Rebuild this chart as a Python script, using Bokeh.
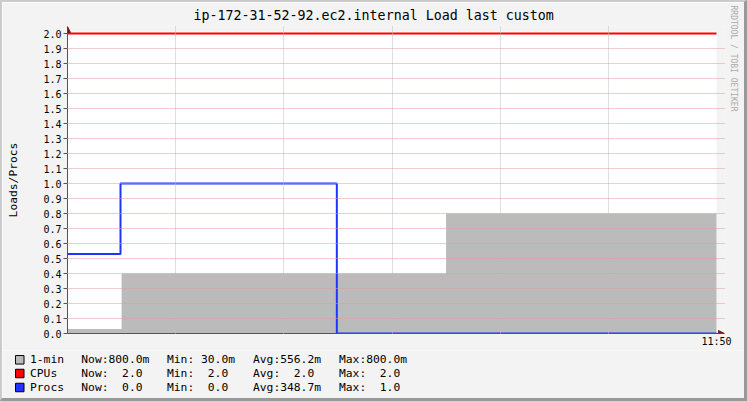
from bokeh.plotting import figure
from bokeh.layouts import column
from bokeh.models import (FixedTicker, PrintfTickFormatter, BoxAnnotation,
                          Arrow, NormalHead, Range1d, Title)
from bokeh.core.properties import value
from bokeh.embed import file_html
from bokeh.resources import INLINE

# ---------------- data ----------------
title_text = "ip-172-31-52-92.ec2.internal Load last custom"
y_axis_title = "Loads/Procs"
watermark = "RRDTOOL / TOBI OETIKER"

# time in minutes after 11:44 (right edge of the white area = 11:50)
load_t = [0.0, 0.5, 3.5, 6.0]
load_v = [0.03, 0.40, 0.80, 0.80]
procs_t = [0.0, 0.49, 2.49, 6.0]
procs_v = [0.53, 1.00, 0.00, 0.00]
cpus_t = [0.0, 6.0]
cpus_v = [2.0, 2.0]

y_ticks = [0.0, 0.1, 0.2, 0.3, 0.4, 0.5, 0.6, 0.7, 0.8, 0.9, 1.0,
           1.1, 1.2, 1.3, 1.4, 1.5, 1.6, 1.7, 1.8, 1.9, 2.0]
x_grid = [1, 2, 3, 4, 5]
x_ticks = [6]
x_tick_labels = ["11:50"]

series = ["1-min", "CPUs", "Procs"]
series_colors = ["#bbbbbb", "#ff0000", "#2233ff"]
now_txt = ["Now:800.0m", "Now:  2.0", "Now:  0.0"]
min_txt = ["Min: 30.0m", "Min:  2.0", "Min:  0.0"]
avg_txt = ["Avg:556.2m", "Avg:  2.0", "Avg:348.7m"]
max_txt = ["Max:800.0m", "Max:  2.0", "Max:  1.0"]

MONO = "DejaVu Sans Mono"
BG = "#f3f3f3"

# ---------------- geometry (local to the area inside the CSS page border) ----
OX, OY = 2, 2
W = 747 - 5
H_ALL = 401 - 5
H1 = 348                                  # main figure height
H2 = H_ALL - H1                           # legend strip height
X0, X6 = 67 - OX, 716 - OX                # pixel of t=0 and t=6
Y0, Y2 = 333 - OY, 33 - OY                # pixel of 0.0 and 2.0
PX = (X6 - X0) / 6.0
PY = (Y0 - Y2) / 2.0
FR, FT = X6 + 8, Y2 - 7                   # frame reaches past the white area for arrows
x_end = (FR - X0) / PX
y_end = (Y0 - FT) / PY
white_top = 2.0 + 2 / PY

p = figure(width=W, height=H1, output_backend="svg", toolbar_location=None,
           x_range=Range1d(0, x_end), y_range=Range1d(0, y_end),
           min_border_left=X0, min_border_right=W - FR,
           min_border_top=FT, min_border_bottom=H1 - Y0,
           background_fill_color=BG, border_fill_color=BG,
           outline_line_color=None)
p.frame_align = False

# white plotting area
p.add_layout(BoxAnnotation(left=0, right=6, bottom=0, top=white_top, fill_color="white",
                           fill_alpha=1, line_alpha=0, level="image"))

# ---------------- glyphs ----------------
p.varea_step(x=load_t, y1=0, y2=load_v, step_mode="after", fill_color=series_colors[0])
p.step(procs_t, procs_v, mode="after", line_color=series_colors[2], line_width=2)
p.line(cpus_t, cpus_v, line_color=series_colors[1], line_width=2)

# ---------------- axes ----------------
ya = p.yaxis[0]
ya.ticker = FixedTicker(ticks=y_ticks)
ya.formatter = PrintfTickFormatter(format="%.1f")
ya.major_label_text_font = MONO
ya.major_label_text_font_size = "10px"
ya.major_label_text_color = "black"
ya.major_label_standoff = 2
ya.major_tick_out = 4
ya.major_tick_in = 0
ya.minor_tick_line_color = None
ya.axis_line_color = "#555555"
ya.major_tick_line_color = "#555555"
ya.axis_label = y_axis_title
ya.axis_label_text_font = MONO
ya.axis_label_text_font_size = "11.3px"
ya.axis_label_text_font_style = "normal"
ya.axis_label_text_color = "black"
ya.axis_label_standoff = 20

xa = p.xaxis[0]
xa.ticker = FixedTicker(ticks=x_ticks)
xa.major_label_overrides = {t: s for t, s in zip(x_ticks, x_tick_labels)}
xa.major_label_text_font = MONO
xa.major_label_text_font_size = "10px"
xa.major_label_text_color = "black"
xa.major_label_standoff = 2
xa.major_tick_out = 0
xa.major_tick_in = 0
xa.minor_tick_line_color = None
xa.axis_line_color = "#555555"

p.xgrid.ticker = FixedTicker(ticks=x_grid)
p.xgrid.grid_line_color = "#bcbcbc"
p.xgrid.grid_line_dash = "1 1"
p.xgrid.level = "guide"
p.ygrid.ticker = FixedTicker(ticks=y_ticks[1:-1])
p.ygrid.grid_line_color = "#e09a9a"
p.ygrid.grid_line_dash = "1 1"
p.ygrid.level = "guide"

# axis arrows
p.add_layout(Arrow(end=NormalHead(size=6, fill_color="#801818", line_color="#801818"),
                   x_start=0, y_start=white_top, x_end=0, y_end=y_end, line_alpha=0))
p.add_layout(Arrow(end=NormalHead(size=6, fill_color="#801818", line_color="#801818"),
                   x_start=6.0, y_start=0, x_end=x_end, y_end=0, line_alpha=0))

# ---------------- title & watermark ----------------
p.title = Title(text=title_text, align="left", offset=126, standoff=7,
                text_font=MONO, text_font_size="13.3px", text_font_style="normal",
                text_color="black")
p.add_layout(Title(text=watermark, align="left", offset=-21, standoff=9,
                   text_font=MONO, text_font_size="8px", text_font_style="normal",
                   text_color="#aaaaaa"), "right")

# ---------------- legend strip ----------------
q = figure(width=W, height=H2, output_backend="svg", toolbar_location=None,
           x_range=Range1d(0, W), y_range=Range1d(H2, 0),
           x_axis_location=None, y_axis_location=None,
           min_border=0, min_border_left=0, min_border_right=0,
           min_border_top=0, min_border_bottom=0,
           background_fill_color=BG, border_fill_color=BG,
           outline_line_color=None)
q.frame_align = False
q.grid.visible = False

LY0 = H1 + OY                              # page y of the strip top
row_y = [359.3 - LY0, 373.0 - LY0, 387.0 - LY0]
box_x = 19.25 - OX
col_x = [29.5 - OX, 80.8 - OX, 166.5 - OX, 252.5 - OX, 338.5 - OX]

q.rect(x=[box_x] * 3, y=row_y, width=8.5, height=8.5, fill_color=series_colors,
       line_color="black", line_width=1)
columns = [series, now_txt, min_txt, avg_txt, max_txt]
for cx, texts in zip(col_x, columns):
    q.text(x=[cx] * 3, y=row_y, text=[t.replace(" ", "\u00a0") for t in texts],
           text_font=value(MONO), text_font_size="11.3px", text_color="black",
           text_align="left", text_baseline="middle")

page = column(p, q, spacing=0,
              styles={"border-left": "2px solid #cbcbcb", "border-top": "2px solid #cbcbcb",
                      "border-right": "3px solid #999999", "border-bottom": "3px solid #999999"})

open("out.html", "w").write(file_html(page, INLINE))
